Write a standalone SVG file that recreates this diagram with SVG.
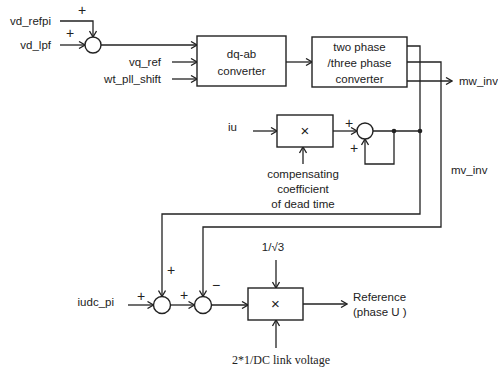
<svg xmlns="http://www.w3.org/2000/svg" width="498" height="370" viewBox="0 0 498 370">
<defs>
<marker id="ar" viewBox="0 0 8 8" refX="7" refY="4" markerWidth="8" markerHeight="8" markerUnits="userSpaceOnUse" orient="auto">
<path d="M1,0.5 L7,4 L1,7.5" fill="none" stroke="#222" stroke-width="1.3"/>
</marker>
</defs>
<style>
.ln{fill:none;stroke:#222;stroke-width:1.3}
.ar{marker-end:url(#ar)}
.bx{fill:#fff;stroke:#222;stroke-width:1.4}
.t{font-family:"Liberation Sans",Arial,sans-serif;font-size:11.5px;fill:#222}
.c{text-anchor:middle}
.e{text-anchor:end}
.x{font-family:"Liberation Sans",Arial,sans-serif;font-size:15px;fill:#222;text-anchor:middle}
.s{font-family:"Liberation Sans",Arial,sans-serif;font-size:14px;fill:#222;text-anchor:middle}
.sr{font-family:"Liberation Serif","Times New Roman",serif;font-size:12px;fill:#222}
</style>
<rect width="498" height="370" fill="#fff"/>
<g id="connectors">
<path class="ln ar" d="M60,21 H93 V37"/>
<path class="ln ar" d="M60,45 H85"/>
<path class="ln ar" d="M101,45 H197"/>
<path class="ln ar" d="M172,62 H197"/>
<path class="ln ar" d="M172,79 H197"/>
<path class="ln ar" d="M286,62 H312"/>
<path class="ln ar" d="M407,46 H420 V214 H162 V296.5"/>
<path class="ln ar" d="M407,62 H441 V227 H203 V296.5"/>
<path class="ln ar" d="M407,81 H452"/>
<path class="ln ar" d="M253,131 H277"/>
<path class="ln ar" d="M303,164 V147"/>
<path class="ln ar" d="M333,131 H357"/>
<path class="ln" d="M373,131 H420"/>
<path class="ln ar" d="M394,131 V164 H365 V139"/>
<path class="ln ar" d="M128,305 H153.5"/>
<path class="ln ar" d="M170.5,305 H194.5"/>
<path class="ln ar" d="M211.5,305 H248"/>
<path class="ln ar" d="M276,260 V288"/>
<path class="ln ar" d="M276,348 V320"/>
<path class="ln ar" d="M303,304 H347"/>
<circle cx="394" cy="131" r="2.3" fill="#222"/>
<circle cx="420" cy="131" r="2.3" fill="#222"/>
</g>
<g id="labels">
<text class="t e" x="51" y="25">vd_refpi</text>
<text class="t e" x="51" y="49">vd_lpf</text>
<text class="t e" x="161" y="66">vq_ref</text>
<text class="t e" x="161" y="83">wt_pll_shift</text>
<text class="t" x="459" y="85">mw_inv</text>
<text class="t" x="451" y="174">mv_inv</text>
<text class="t" x="228" y="131">iu</text>
<text class="t c" x="303" y="178">compensating</text>
<text class="t c" x="303" y="193">coefficient</text>
<text class="t c" x="303" y="208">of dead time</text>
<text class="t e" x="114" y="306">iudc_pi</text>
<text class="t c" x="273" y="251">1/√3</text>
<text class="sr" x="281" y="364" text-anchor="middle">2*1/DC link voltage</text>
<text class="t" x="353" y="301">Reference</text>
<text class="t" x="353" y="316">(phase U )</text>
<text class="s" x="82" y="15">+</text>
<text class="s" x="70" y="38">+</text>
<text class="s" x="349" y="128">+</text>
<text class="s" x="354" y="153">+</text>
<text class="s" x="141" y="301">+</text>
<text class="s" x="171" y="275">+</text>
<text class="s" x="184" y="300">+</text>
<text class="s" x="216" y="290">−</text>
</g>
<g id="sum1"><circle class="bx" cx="93" cy="45" r="8"/></g>
<g id="dqab"><rect class="bx" x="197" y="36" width="89" height="50"/>
<text class="t c" x="241.5" y="58">dq-ab</text><text class="t c" x="241.5" y="75">converter</text></g>
<g id="twophase"><rect class="bx" x="312" y="37" width="95" height="50"/>
<text class="t c" x="359.5" y="51">two phase</text><text class="t c" x="359.5" y="67">/three phase</text><text class="t c" x="359.5" y="83">converter</text></g>
<g id="mult1"><rect class="bx" x="277" y="115" width="56" height="32"/><text class="x" x="305" y="136">×</text></g>
<g id="sum2"><circle class="bx" cx="365" cy="131" r="8"/></g>
<g id="sum3"><circle class="bx" cx="162" cy="305" r="8.5"/></g>
<g id="sum4"><circle class="bx" cx="203" cy="305" r="8.5"/></g>
<g id="mult2"><rect class="bx" x="248" y="288" width="55" height="32"/><text class="x" x="275.5" y="309">×</text></g>
</svg>
